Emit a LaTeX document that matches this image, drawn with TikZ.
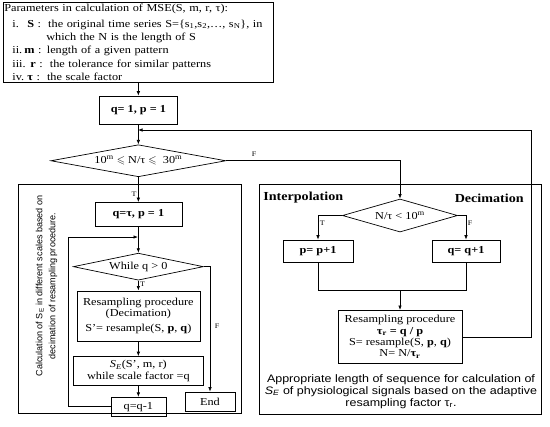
\documentclass[tikz,border=0pt]{standalone}
\usepackage{amssymb}
\usepackage{fontspec}
\setmainfont{Liberation Serif}[FakeStretch=1.15]
\setsansfont{Liberation Sans}[FakeStretch=1.15]
\newfontfamily\rotfont{Liberation Sans}
\usetikzlibrary{positioning,shapes.geometric,arrows.meta}

\begin{document}
\begin{tikzpicture}[x=1bp, y=1bp, line width=0.7bp,
    box/.style={draw, align=center, inner sep=1bp, font=\fontsize{10.7}{11.5}\selectfont},
    cond/.style={draw, diamond, aspect=4, inner sep=0pt, font=\fontsize{10.7}{11.5}\selectfont},
    flow/.style={-{Latex[length=4.5bp, width=3.5bp]}},
    lab/.style={font=\fontsize{7}{8}\selectfont, inner sep=1.5bp},
    head/.style={font=\bfseries\fontsize{12.3}{13}\selectfont, inner sep=0pt},
    panel/.style={draw, line width=0.9bp, inner sep=0pt}]
      \useasboundingbox (0,0) rectangle (550,-426);
      \node[draw, anchor=north west, minimum width=270bp, minimum height=80bp, inner sep=1bp,
        align=left, text width=268bp, font=\fontsize{10.7}{13.4}\selectfont] (par) at (3,-2)
        {Parameters in calculation of MSE(S, m, r, τ):\\[2.5bp]
        \hspace*{8bp}\makebox[15bp][l]{i.}\textbf{S} :\ \ the original time series S=\{s\textsubscript{1},s\textsubscript{2},…, s\textsubscript{N}\}, in\\
        \hspace*{42bp}which the N is the length of S\\
        \hspace*{8bp}\makebox[12bp][l]{ii.}\textbf{m} : length of a given pattern\\
        \hspace*{8bp}\makebox[18bp][l]{iii.}\textbf{r} :\ \ the tolerance for similar patterns\\
        \hspace*{8bp}\makebox[15bp][l]{iv.}\textbf{τ} :\ \ the scale factor};
      \node[box, minimum width=78bp, minimum height=28bp, below=13bp of par] (init) {\textbf{q= 1, p = 1}};
      \node[cond, minimum width=175bp, minimum height=32bp, below=20bp of init] (d1)
        {10\textsuperscript{m} $\leqslant$ N/τ $\leqslant$ \ 30\textsuperscript{m}};
      \coordinate (fb) at (138,-130);
      \coordinate (fbc) at (531,-130);

      \node[panel, minimum width=223bp, minimum height=229bp] (lpanel) at (129.5,-298.5) {};
      \node[panel, minimum width=282bp, minimum height=230bp] (rpanel) at (400,-299) {};
      \node[rotate=90, align=center, font=\rotfont\fontsize{9.1}{13}\selectfont] (note) at (46.5,-286)
        {Calculation of S\textsubscript{E} in different scales based on\\decimation of resampling procedure.};

      \node[box, minimum width=87bp, minimum height=24bp, below=25bp of d1] (qtau) {\textbf{q=τ, p = 1}};
      \node[cond, minimum width=130bp, minimum height=27bp, below=26bp of qtau] (w) {While q > 0};
      \node[box, minimum width=123bp, minimum height=50bp, below=10bp of w] (rs1)
        {Resampling procedure\\(Decimation)\\[3bp]S’= resample(S, \textbf{p}, \textbf{q})};
      \node[box, minimum width=130bp, minimum height=29bp, below=15bp of rs1] (se)
        {{\itshape S\textsubscript{E}}(S’, m, r)\\while scale factor =q};
      \node[box, minimum width=55bp, minimum height=19bp, below=11bp of se] (dec) {q=q-1};
      \node[box, minimum width=50bp, minimum height=19bp] (end) at (210,-401.5) {End};
      \coordinate (lp) at (68,-237);
      \coordinate (lpin) at (138,-237);

      \node[head, anchor=west] (interp) at (263,-198) {Interpolation};
      \node[head, anchor=east] (decim) at (524,-198) {Decimation};
      \node[cond, minimum width=115bp, minimum height=33bp] (d2) at (400,-215.5) {N/τ < 10\textsuperscript{m}};
      \node[box, minimum width=70bp, minimum height=22bp] (pp) at (318,-251) {\textbf{p= p+1}};
      \node[box, minimum width=68bp, minimum height=22bp] (qq) at (466,-251) {\textbf{q= q+1}};
      \coordinate (mg) at (400,-290);
      \node[box, minimum width=124bp, minimum height=53bp, below=20bp of mg] (rs2)
        {Resampling procedure\\\textbf{τ\textsubscript{r} = q / p}\\S= resample(S, \textbf{p}, \textbf{q})\\N= N/\textbf{τ\textsubscript{r}}};
      \node[align=center, font=\sffamily\fontsize{10.9}{12}\selectfont] (cap) at (401,-391.5)
        {Appropriate length of sequence for calculation of\\{\itshape S\textsubscript{E}} of physiological signals based on the adaptive\\resampling factor τ\textsubscript{r}.};

      \draw[flow] (par) -- (init);
      \draw[flow] (init) -- (d1);
      \draw[flow] (rs2) -| (fbc) -- (fb);
      \draw[flow] (d1) -- (qtau) node[lab, pos=0.7, left] {T};
      \draw[flow] (d1.east) -| (d2) node[lab, pos=0.08, above=2bp] {F};
      \draw[flow] (qtau) -- (w);
      \draw[flow] (w) -- (rs1) node[lab, pos=0.4, right] {T};
      \draw[flow] (w.east) -| (end) node[lab, pos=0.74, right=3bp] {F};
      \draw[flow] (rs1) -- (se);
      \draw[flow] (se) -- (dec);
      \draw[flow] (dec.west) -| (lp) -- (lpin);
      \draw[flow] (d2.west) -| (pp) node[lab, pos=0.65, right] {T};
      \draw[flow] (d2.east) -| (qq) node[lab, pos=0.65, right] {F};
      \draw (pp) |- (qq.south |- mg) -- (qq);
      \draw[flow] (mg) -- (rs2);
    \end{tikzpicture}
\end{document}
